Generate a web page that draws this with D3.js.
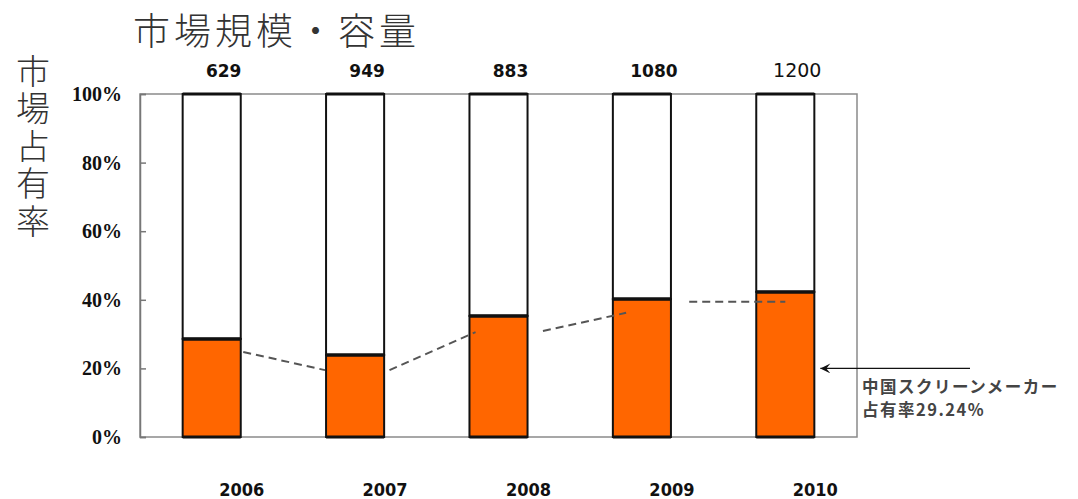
<!DOCTYPE html>
<html>
<head>
<meta charset="utf-8">
<script src="https://cdn.jsdelivr.net/npm/d3@7"></script>
<style>
  body { margin: 0; background: #fff; }
</style>
</head>
<body>
<div class="visuals"></div>
<script>
// chart data
const years = ["2006", "2007", "2008", "2009", "2010"];
const marketSize = ["629", "949", "883", "1080", "1200"];
const chinaShare = [28.6, 23.9, 35.3, 40.2, 42.3];     // % orange part
const yTicks = [0, 20, 40, 60, 80, 100];
// dashed trend segments: [index position, %] -> [index position, %]
const trendFrom = [[0.22, 24.8], [1.24, 19.5], [2.31, 30.9], [3.33, 39.4]];
const trendTo = [[0.79, 19.5], [1.84, 30.6], [2.89, 36.2], [4.0, 39.4]];
const noteLines = ["中国スクリーンメーカー", "占有率29.24%"];

const width = 1078;
const height = 499;
const plotLeft = 140, plotRight = 857, plotTop = 94, plotBottom = 437;

const svg = d3.select(".visuals")
  .append("svg")
  .attr("width", width)
  .attr("height", height);

const x = d3.scaleBand()
  .domain(years)
  .range([plotLeft, plotRight])
  .paddingInner(0.595)
  .paddingOuter(0.2975);

const y = d3.scaleLinear()
  .domain([0, 100])
  .range([plotBottom, plotTop]);

// index -> x (centre of band i)
const xi = d3.scaleLinear()
  .domain([0, years.length - 1])
  .range([x(years[0]) + x.bandwidth() / 2, x(years[years.length - 1]) + x.bandwidth() / 2]);

// title
svg.append("text")
  .attr("x", 133)
  .attr("y", 45)
  .attr("font-family", "Noto Sans CJK JP")
  .attr("font-weight", 300)
  .attr("font-size", 37)
  .attr("letter-spacing", 4)
  .attr("fill", "#333")
  .text("市場規模・容量");

// vertical y label
svg.append("text")
  .attr("x", 33)
  .attr("y", 54)
  .attr("writing-mode", "vertical-rl")
  .style("text-orientation", "upright")
  .attr("font-family", "Noto Sans CJK JP")
  .attr("font-weight", 300)
  .attr("font-size", 34)
  .attr("letter-spacing", 3.5)
  .attr("fill", "#333")
  .text("市場占有率");

// plot frame
svg.append("rect")
  .attr("x", plotLeft)
  .attr("y", plotTop)
  .attr("width", plotRight - plotLeft)
  .attr("height", plotBottom - plotTop)
  .attr("fill", "none")
  .attr("stroke", "#8a8a8a")
  .attr("stroke-width", 1.5);

// y axis
const yAxis = svg.append("g")
  .attr("id", "y-axis")
  .attr("transform", `translate(${plotLeft},0)`)
  .call(d3.axisRight(y).tickValues(yTicks).tickSize(6).tickFormat(d => d + "%"));
yAxis.select(".domain").attr("stroke", "#777").attr("stroke-width", 1.5);
yAxis.selectAll(".tick line").attr("stroke", "#777").attr("stroke-width", 1.5);
yAxis.selectAll(".tick text")
  .attr("x", -18)
  .attr("text-anchor", "end")
  .attr("font-family", "Liberation Serif")
  .attr("font-weight", "bold")
  .attr("font-size", 20)
  .attr("fill", "#111");

// bars
const bars = svg.append("g")
  .selectAll("g")
  .data(years)
  .enter()
  .append("g");

bars.append("rect")
  .attr("class", "bar")
  .attr("x", d => x(d))
  .attr("y", y(100))
  .attr("width", x.bandwidth())
  .attr("height", (d, i) => y(chinaShare[i]) - y(100))
  .attr("fill", "#fff")
  .attr("stroke", "#111")
  .attr("stroke-width", 2);

bars.append("rect")
  .attr("class", "bar")
  .attr("x", d => x(d))
  .attr("y", (d, i) => y(chinaShare[i]))
  .attr("width", x.bandwidth())
  .attr("height", (d, i) => y(0) - y(chinaShare[i]))
  .attr("fill", "#ff6600")
  .attr("stroke", "#111")
  .attr("stroke-width", 2);

// heavy lines at top / split / bottom
bars.append("line")
  .attr("x1", d => x(d))
  .attr("x2", d => x(d) + x.bandwidth())
  .attr("y1", (d, i) => y(chinaShare[i]))
  .attr("y2", (d, i) => y(chinaShare[i]))
  .attr("stroke", "#111")
  .attr("stroke-width", 3.5);

bars.append("line")
  .attr("x1", d => x(d))
  .attr("x2", d => x(d) + x.bandwidth())
  .attr("y1", y(100))
  .attr("y2", y(100))
  .attr("stroke", "#111")
  .attr("stroke-width", 3);

bars.append("line")
  .attr("x1", d => x(d))
  .attr("x2", d => x(d) + x.bandwidth())
  .attr("y1", y(0))
  .attr("y2", y(0))
  .attr("stroke", "#111")
  .attr("stroke-width", 3);

// dashed trend
svg.append("g")
  .selectAll("line")
  .data(trendFrom)
  .enter()
  .append("line")
  .attr("x1", d => xi(d[0]))
  .attr("y1", d => y(d[1]))
  .attr("x2", (d, i) => xi(trendTo[i][0]))
  .attr("y2", (d, i) => y(trendTo[i][1]))
  .attr("stroke", "#555")
  .attr("stroke-width", 2)
  .attr("stroke-dasharray", "8,5");

// market size labels on top
svg.append("g")
  .selectAll("text")
  .data(marketSize)
  .enter()
  .append("text")
  .attr("x", (d, i) => x(years[i]) + x.bandwidth() / 2 + 12)
  .attr("y", 77)
  .attr("text-anchor", "middle")
  .attr("font-family", "DejaVu Sans")
  .attr("font-weight", (d, i) => i === 4 ? "normal" : "bold")
  .attr("font-size", (d, i) => i === 4 ? 19 : 17)
  .attr("fill", "#111")
  .text(d => d);

// year labels
svg.append("g")
  .attr("id", "x-axis")
  .selectAll("text")
  .data(years)
  .enter()
  .append("text")
  .attr("x", d => x(d) + x.bandwidth() / 2 + 30)
  .attr("y", 496)
  .attr("text-anchor", "middle")
  .attr("font-family", "DejaVu Sans Condensed, DejaVu Sans")
  .attr("font-stretch", "condensed")
  .attr("font-weight", "bold")
  .attr("font-size", 18)
  .attr("fill", "#111")
  .text(d => d);

// arrow annotation
svg.append("defs")
  .append("marker")
  .attr("id", "arrow")
  .attr("viewBox", "0 0 10 10")
  .attr("refX", 0)
  .attr("refY", 5)
  .attr("markerUnits", "userSpaceOnUse")
  .attr("markerWidth", 11)
  .attr("markerHeight", 10)
  .attr("orient", "auto")
  .append("path")
  .attr("d", "M0,5 L10,0 L6,5 L10,10 Z")
  .attr("fill", "#111");

const lastBar = x(years[4]) + x.bandwidth();
svg.append("line")
  .attr("x1", lastBar + 6)
  .attr("x2", 970)
  .attr("y1", y(20))
  .attr("y2", y(20))
  .attr("stroke", "#111")
  .attr("stroke-width", 1.4)
  .attr("marker-start", "url(#arrow)");

svg.append("g")
  .selectAll("text")
  .data(noteLines)
  .enter()
  .append("text")
  .attr("x", 862)
  .attr("y", (d, i) => 393 + i * 23)
  .attr("font-family", "Noto Sans CJK JP")
  .attr("font-weight", "bold")
  .attr("font-size", 16.5)
  .attr("letter-spacing", 1.5)
  .attr("fill", "#444")
  .text(d => d);
</script>
</body>
</html>
